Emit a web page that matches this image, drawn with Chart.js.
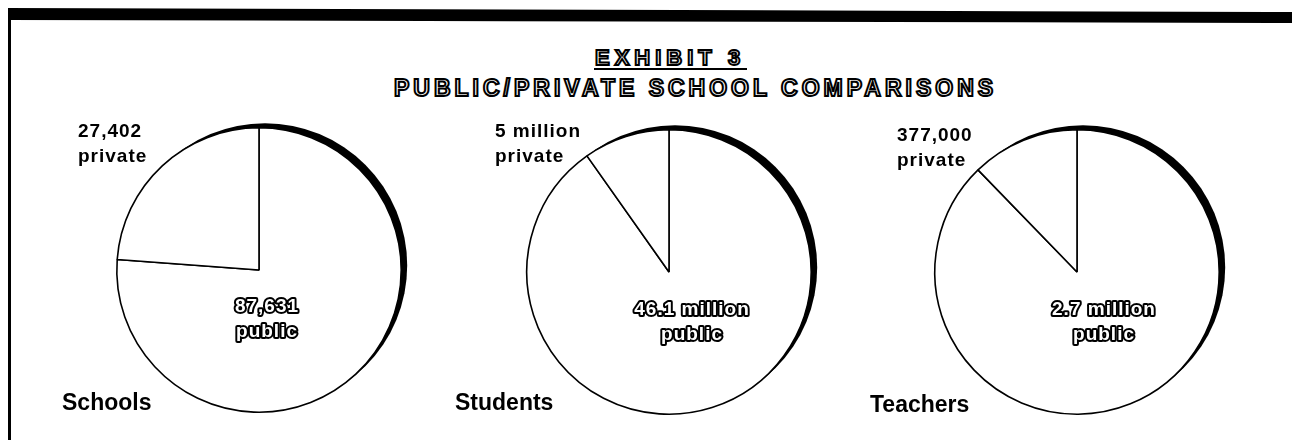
<!DOCTYPE html>
<html>
<head>
<meta charset="utf-8">
<script src="https://cdn.jsdelivr.net/npm/chart.js@4.4.1/dist/chart.umd.min.js"></script>
<style>
  html, body { margin: 0; padding: 0; background: #fff; }
  body { width: 1292px; height: 440px; position: relative; overflow: hidden; font-family: "Liberation Sans", Arial, sans-serif; }
  .topbar { position: absolute; left: 0; top: 0; width: 1292px; height: 30px; background: #000;
            clip-path: polygon(8px 8px, 1292px 12px, 1292px 23px, 8px 20px); }
  .leftline { position: absolute; left: 8px; top: 8px; width: 3px; height: 440px; background: #000; }
  .outline { position: absolute; font-weight: bold; color: #fff; -webkit-text-stroke: 2px #000; white-space: nowrap; }
  .uline { position: absolute; left: 594px; top: 68px; width: 153px; height: 2px; background: #000; }
  .pie { position: absolute; width: 300px; height: 300px; }
  .cat { position: absolute; font-size: 23px; line-height: 23px; font-weight: bold; color: #000; white-space: nowrap; }
  .priv { position: absolute; font-size: 19px; line-height: 25px; font-weight: bold; letter-spacing: 1px; color: #000; white-space: nowrap; }
</style>
</head>
<body>
<div class="topbar"></div>
<div class="leftline"></div>
<div class="outline" id="exhibit" style="left:595px; top:47px; font-size:22px; line-height:22px; letter-spacing:5px;"></div>
<div class="uline"></div>
<div class="outline" id="title" style="left:394px; top:77px; font-size:23px; line-height:23px; letter-spacing:4px;"></div>

<div class="pie" style="left:109px; top:120px;"><canvas id="pie-schools" width="300" height="300"></canvas></div>
<div class="pie" style="left:519px; top:122px;"><canvas id="pie-students" width="300" height="300"></canvas></div>
<div class="pie" style="left:927px; top:122px;"><canvas id="pie-teachers" width="300" height="300"></canvas></div>

<script>
var exhibit = "EXHIBIT 3";
var title = "PUBLIC/PRIVATE SCHOOL COMPARISONS";
var categories = ["Schools", "Students", "Teachers"];
var sliceNames = ["public", "private"];
// schools are counted, students and teachers in millions
var publicValues = [87631, 46.1, 2.7];
var privateValues = [27402, 5, 0.377];
var publicLabels = ["87,631", "46.1 million", "2.7 million"];
var privateLabels = ["27,402", "5 million", "377,000"];

var canvasIds = ["pie-schools", "pie-students", "pie-teachers"];
var catPos = [[62, 391], [455, 391], [870, 393]];
var privPos = [[78, 118], [495, 118], [897, 122]];
var pubOffset = [[8, 42], [23, 43], [27, 43]];

// black crescent on the rim, offset up and to the right
var rimShadow = {
    id: 'rimShadow',
    beforeDatasetsDraw: function(chart) {
        var arc = chart.getDatasetMeta(0).data[0];
        var ctx = chart.ctx;
        ctx.save();
        ctx.fillStyle = '#000';
        ctx.beginPath();
        ctx.arc(arc.x + 6, arc.y - 4.5, arc.outerRadius, 0, Math.PI * 2);
        ctx.fill();
        ctx.restore();
    }
};

// outlined label inside the public slice
var publicLabel = {
    id: 'publicLabel',
    afterDatasetsDraw: function(chart, args, opts) {
        var arc = chart.getDatasetMeta(0).data[0];
        var ctx = chart.ctx;
        var lines = [opts.value, sliceNames[0]];
        ctx.save();
        ctx.font = 'bold 19px "Liberation Sans", Arial, sans-serif';
        ctx.letterSpacing = '1px';
        ctx.textAlign = 'center';
        ctx.textBaseline = 'alphabetic';
        ctx.lineJoin = 'round';
        ctx.lineWidth = 4;
        ctx.strokeStyle = '#000';
        ctx.fillStyle = '#fff';
        for (var i = 0; i < lines.length; i++) {
            var x = arc.x + opts.dx;
            var y = arc.y + opts.dy + i * 25;
            ctx.strokeText(lines[i], x, y);
            ctx.fillText(lines[i], x, y);
        }
        ctx.restore();
    }
};

window.addEventListener("load", init);

function init() {
    document.getElementById("exhibit").textContent = exhibit;
    document.getElementById("title").textContent = title;
    for (var i = 0; i < categories.length; i++) {
        initPie(i);
    }
}

function initPie(i) {
    var cat = document.createElement("div");
    cat.className = "cat";
    cat.style.left = catPos[i][0] + "px";
    cat.style.top = catPos[i][1] + "px";
    cat.textContent = categories[i];
    document.body.appendChild(cat);

    var priv = document.createElement("div");
    priv.className = "priv";
    priv.style.left = privPos[i][0] + "px";
    priv.style.top = privPos[i][1] + "px";
    priv.innerHTML = privateLabels[i] + "<br>" + sliceNames[1];
    document.body.appendChild(priv);

    const data = {
        labels: sliceNames,
        datasets: [
            {
                label: categories[i],
                data: [publicValues[i], privateValues[i]],
                backgroundColor: ['#fff', '#fff'],
                borderColor: '#000',
                borderWidth: 1.6,
            }
        ]
    };

    const config = {
        type: 'pie',
        data: data,
        options: {
            responsive: false,
            animation: false,
            layout: { padding: 7 },
            plugins: {
                legend: { display: false },
                tooltip: { enabled: false },
                title: { display: false },
                publicLabel: { value: publicLabels[i], dx: pubOffset[i][0], dy: pubOffset[i][1] }
            }
        },
        plugins: [rimShadow, publicLabel]
    };
    new Chart(document.getElementById(canvasIds[i]), config);
}
</script>
</body>
</html>
